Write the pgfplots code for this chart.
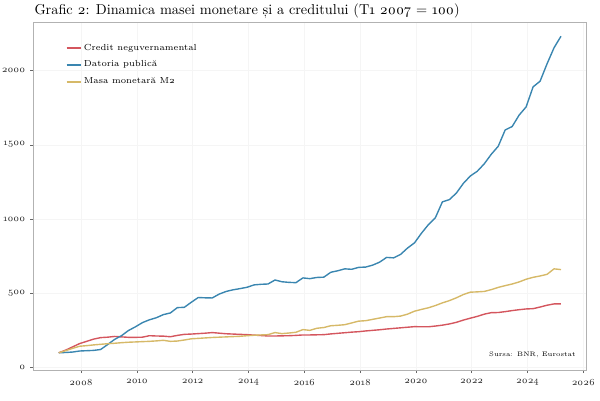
\documentclass[border=0pt]{standalone}
\usepackage{fontspec}
\setmainfont{Latin Modern Roman}[Numbers=OldStyle]
\usepackage{pgfplots}
\usepackage{pgfplotstable}
\pgfplotsset{compat=1.18}

\definecolor{cred}{RGB}{212,86,94}
\definecolor{cblue}{RGB}{58,134,176}
\definecolor{cyel}{RGB}{214,185,104}

% t  credit  datorie  m2
\pgfplotstableread{
t       credit  datorie  m2
2007.20 100 100 100
2007.45 118 102 114
2007.70 140 105 130
2007.95 162 112 144
2008.20 177 114 148
2008.45 192 116 153
2008.70 202 122 157
2008.95 205 155 161
2009.20 210 190 164
2009.45 207 215 168
2009.70 204 250 171
2009.95 204 275 173
2010.20 205 303 175
2010.45 215 322 177
2010.70 213 336 180
2010.95 212 357 184
2011.20 208 368 177
2011.45 217 404 179
2011.70 224 406 186
2011.95 226 440 194
2012.20 229 472 197
2012.45 232 470 200
2012.70 236 469 203
2012.95 232 495 205
2013.20 228 513 207
2013.45 226 524 209
2013.70 224 532 211
2013.95 222 541 215
2014.20 219 557 218
2014.45 216 561 220
2014.70 213 563 222
2014.95 213 590 236
2015.20 214 578 229
2015.45 215 574 233
2015.70 217 572 238
2015.95 220 604 256
2016.20 220 599 251
2016.45 221 607 265
2016.70 222 609 270
2016.95 227 642 282
2017.20 231 652 285
2017.45 235 665 289
2017.70 239 662 301
2017.95 242 675 313
2018.20 247 677 316
2018.45 251 690 325
2018.70 255 710 334
2018.95 260 742 343
2019.20 264 739 343
2019.45 268 762 347
2019.70 272 805 360
2019.95 276 840 380
2020.20 275 905 392
2020.45 275 963 403
2020.70 280 1010 418
2020.95 286 1116 436
2021.20 294 1131 451
2021.45 305 1175 470
2021.70 320 1240 492
2021.95 333 1290 508
2022.20 345 1322 510
2022.45 360 1372 513
2022.70 370 1436 525
2022.95 371 1490 540
2023.20 377 1600 552
2023.45 384 1623 563
2023.70 390 1700 577
2023.95 395 1755 595
2024.20 397 1890 608
2024.45 408 1928 617
2024.70 420 2045 628
2024.95 429 2153 665
2025.20 429 2231 660
}\data

\begin{document}
\begin{tikzpicture}
\path[use as bounding box] (-23.8pt,-21.6pt) rectangle (408pt,266.4pt);
\begin{axis}[
    scale only axis,
    width=398pt, height=250.6pt,
    xmin=2006.28, xmax=2026.1,
    ymin=-17, ymax=2327,
    xtick={2008,2010,...,2026},
    ytick={0,500,1000,1500,2000},
    /pgf/number format/1000 sep={},
    /pgf/number format/assume math mode=true,
    tick label style={font=\fontsize{6.7}{7}\selectfont, black!85},
    tick align=outside,
    tick pos=left,
    major tick length=2.2pt,
    tick style={black!60, line width=0.4pt},
    axis line style={black!30, line width=0.5pt},
    grid=major,
    grid style={black!4, line width=0.4pt},
    xticklabel style={yshift=-0.5pt},
    legend style={draw=none, fill=none, at={(20.5pt,239pt)}, anchor=north west,
        font=\fontsize{6.3}{7}\selectfont, row sep=2.3pt,
        /tikz/every even column/.append style={column sep=4pt}},
    legend cell align=left,
    legend image code/.code={\draw[#1, line width=0.9pt] (0pt,0pt) -- (10pt,0pt);},
    every axis plot/.append style={line width=1pt, line join=round},
]
\addplot[cred] table[x=t, y=credit] {\data};
\addlegendentry{Credit neguvernamental}
\addplot[cblue] table[x=t, y=datorie] {\data};
\addlegendentry{Datoria publică}
\addplot[cyel] table[x=t, y=m2] {\data};
\addlegendentry{Masa monetară M2}
\node[anchor=east, font=\fontsize{4.7}{5}\selectfont] at (rel axis cs:0.99,0.045) {Sursa: BNR, Eurostat};
\end{axis}
\node[anchor=west, font=\fontsize{10.3}{12}\selectfont] at (-2.5pt,258.5pt) {Grafic 2: Dinamica masei monetare și a creditului (T1 2007 = 100)};
\end{tikzpicture}
\end{document}
